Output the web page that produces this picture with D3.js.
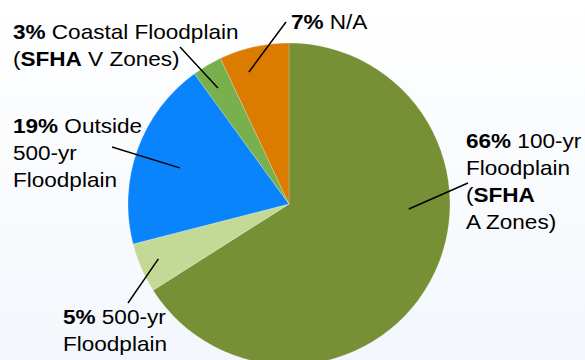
<!DOCTYPE html>
<html><head><meta charset="utf-8">
<script src="https://cdn.jsdelivr.net/npm/d3@7"></script>
<style>html,body{margin:0;padding:0;}svg{display:block;}</style>
</head><body>
<svg id="chart" width="585" height="360"></svg>
<script>
// Data
const categories = ["100-yr Floodplain (SFHA A Zones)", "500-yr Floodplain", "Outside 500-yr Floodplain", "Coastal Floodplain (SFHA V Zones)", "N/A"];
const values = [66, 5, 19, 3, 7];
const colors = ["#779036", "#C4D996", "#0A84FC", "#78B04E", "#DB7B00"];
// label lines: [text, bold]
const labelLines = [
  [[["66%", true], [" 100-yr", false]], [["Floodplain", false]], [["(", false], ["SFHA", true]], [["A Zones)", false]]],
  [[["5%", true], [" 500-yr", false]], [["Floodplain", false]]],
  [[["19%", true], [" Outside", false]], [["500-yr", false]], [["Floodplain", false]]],
  [[["3%", true], [" Coastal Floodplain", false]], [["(", false], ["SFHA", true], [" V Zones)", false]]],
  [[["7%", true], [" N/A", false]]]
];

// Layout
const W = 585, H = 360;
const cx = 289, cy = 204, R = 161;
const fontSize = 20.5, stretchX = 1.1, lineH = 27;
const labelLayout = [
  {x: 466, y: 148, anchorDeg: 92.4, anchorR: 0.745, end: [468, 183]},
  {x: 63,  y: 324, anchorDeg: 247.2, anchorR: 0.88, end: [128, 303]},
  {x: 13,  y: 133, anchorDeg: 288.3, anchorR: 0.715, end: [112, 147]},
  {x: 13,  y: 39,  anchorDeg: 328.5, anchorR: 0.845, end: [180, 47]},
  {x: 291, y: 29,  anchorDeg: 343.1, anchorR: 0.857, end: [286, 22]}
];

const svg = d3.select("#chart");
const defs = svg.append("defs");
const grad = defs.append("linearGradient").attr("id", "bg").attr("x1", 0).attr("y1", 0).attr("x2", 0).attr("y2", 1);
grad.append("stop").attr("offset", "0%").attr("stop-color", "#FFFFFF");
grad.append("stop").attr("offset", "100%").attr("stop-color", "#F3F7FC");
svg.append("rect").attr("width", W).attr("height", H).attr("fill", "url(#bg)");

const pie = d3.pie().value(d => d).sort(null);
const arcs = pie(values);
const arc = d3.arc().innerRadius(0).outerRadius(R);

const g = svg.append("g").attr("transform", `translate(${cx},${cy})`);
g.selectAll("path").data(arcs).join("path")
  .attr("d", arc)
  .attr("fill", (d, i) => colors[i])
  .attr("stroke", "rgba(255,255,255,0.35)")
  .attr("stroke-width", 0.6);

// Leader lines
const toRad = Math.PI / 180;
svg.selectAll("line.leader").data(labelLayout).join("line")
  .attr("class", "leader")
  .attr("x1", d => cx + R * d.anchorR * Math.sin(d.anchorDeg * toRad))
  .attr("y1", d => cy - R * d.anchorR * Math.cos(d.anchorDeg * toRad))
  .attr("x2", d => d.end[0])
  .attr("y2", d => d.end[1])
  .attr("stroke", "#000")
  .attr("stroke-width", 1.5);

// Labels
labelLines.forEach((lines, i) => {
  const L = labelLayout[i];
  const t = svg.append("text")
    .attr("transform", `translate(${L.x},${L.y}) scale(${stretchX},1)`)
    .attr("font-family", "'Liberation Sans', Arial, sans-serif")
    .attr("font-size", fontSize)
    .attr("fill", "#000")
    .attr("xml:space", "preserve");
  lines.forEach((segs, li) => {
    segs.forEach((s, si) => {
      const ts = t.append("tspan").text(s[0]).attr("font-weight", s[1] ? "bold" : "normal")
        .style("white-space", "pre");
      if (si === 0) ts.attr("x", 0).attr("y", li * lineH);
    });
  });
});
</script>
</body></html>
